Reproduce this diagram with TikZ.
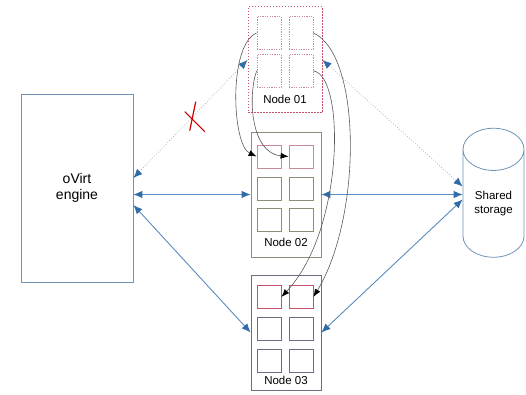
\documentclass[tikz,border=0pt]{standalone}
\usepackage{fontspec}
\setmainfont{Liberation Sans}
\usetikzlibrary{arrows.meta,shapes.geometric}
\definecolor{framecol}{HTML}{6F93B5}
\definecolor{redcol}{HTML}{C8506A}
\definecolor{vmred}{HTML}{C98A96}
\definecolor{olivecol}{HTML}{8B8F78}
\definecolor{slatecol}{HTML}{6D6D82}
\definecolor{linkblue}{HTML}{5B8BBF}
\definecolor{tipblue}{HTML}{2F6CA8}
\begin{document}
\begin{tikzpicture}[x=1pt,y=1pt,
    host/.style={draw,line width=0.8pt,inner sep=0pt},
    vm/.style={draw,line width=0.8pt,minimum width=24pt,minimum height=23pt,inner sep=0pt},
    lbl/.style={font=\fontsize{11.5}{14}\selectfont,inner sep=0pt},
    link/.style={draw=linkblue,line width=0.9pt,
        {Latex[length=9pt,width=7.5pt,color=tipblue]}-{Latex[length=9pt,width=7.5pt,color=tipblue]}},
    lost/.style={link,draw=gray!70,line width=0.7pt,dotted},
    move/.style={draw=black!65,line width=0.6pt,-{Latex[length=8pt,width=6pt,color=black]}}]
    \useasboundingbox (0,0) rectangle (526,395);
    % hosts
    \node[host,draw=framecol,minimum width=112pt,minimum height=188pt,align=center,
        font=\fontsize{14}{16}\selectfont] (engine) at (77,207) {oVirt\\engine};
    \node[host,draw=redcol,line width=1pt,dash pattern=on 1.5pt off 1.5pt,
        minimum width=74pt,minimum height=106pt] (n1) at (285,335) {};
    \node[host,draw=olivecol,minimum width=70pt,minimum height=125pt] (n2) at (286,200.5) {};
    \node[host,draw=slatecol,minimum width=70pt,minimum height=115pt] (n3) at (286,62.5) {};
    \node[lbl] (n1lbl) at (285,296) {Node 01};
    \node[lbl] (n2lbl) at (286,153) {Node 02};
    \node[lbl] (n3lbl) at (286,15) {Node 03};
    \node[draw=framecol,line width=0.8pt,cylinder,shape border rotate=90,aspect=1.1,
        minimum width=61pt,minimum height=129pt,align=center,lbl] (st) at (493.5,191.5) {Shared\\storage};
    % virtual machines
    \foreach \r/\y in {1/362,2/324}
        \foreach \c/\x in {1/269,2/301}
            \node[vm,draw=vmred,dash pattern=on 1.2pt off 1.2pt,minimum height=33pt] (a\r\c) at (\x,\y) {};
    \foreach \r/\y/\col in {1/238.5/vmred,2/206.5/olivecol,3/175/olivecol}
        \foreach \c/\x in {1/269,2/301}
            \node[vm,draw=\col] (b\r\c) at (\x,\y) {};
    \foreach \r/\y/\col in {1/98/redcol,2/66/slatecol,3/34/slatecol}
        \foreach \c/\x in {1/269,2/301}
            \node[vm,draw=\col] (c\r\c) at (\x,\y) {};
    % links
    \draw[lost] ([yshift=10pt]engine.east) -- coordinate[pos=0.52] (cut) (n1.west);
    \draw[link] (engine.east |- n2.west) -- (n2.west);
    \draw[link] ([yshift=-17pt]engine.east) -- (n3.west);
    \draw[lost] (n1.east) -- ([yshift=17pt]st.west);
    \draw[link] (n2.east) -- (n2.east -| st.west);
    \draw[link] (n3.east) -- ([yshift=4pt]st.west);
    \draw[red!80!black,line width=1.2pt] ([shift={(3,15)}]cut) -- ([shift={(-3,-14)}]cut);
    \draw[red!80!black,line width=1.2pt] ([shift={(-8,5)}]cut) -- ([shift={(12,-15)}]cut);
    % migrations
    \draw[move] (a11.west) .. controls (228,350) and (232,250) .. (b11.west);
    \draw[move] (a21.west) .. controls (248,300) and (250,242) .. (b12.west);
    \draw[move] (a12.east) .. controls (362,340) and (362,178) .. (c12.east);
    \draw[move] (a22.east) .. controls (345,320) and (345,166) .. (c11.east);
\end{tikzpicture}
\end{document}
